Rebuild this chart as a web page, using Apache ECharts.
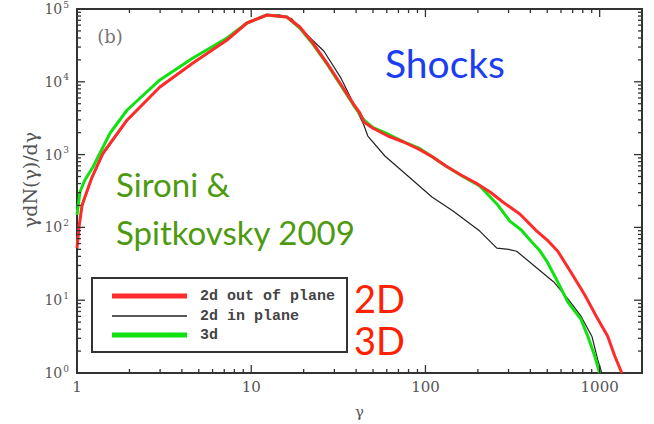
<!DOCTYPE html>
<html>
<head>
<meta charset="utf-8">
<script src="https://cdn.jsdelivr.net/npm/echarts@6/dist/echarts.min.js"></script>
<style>
  html, body { margin: 0; padding: 0; background: #fff; }
  #chart { width: 654px; height: 424px; }
</style>
</head>
<body>
<div id="chart"></div>
<script>
// Particle spectra gamma dN/dgamma vs gamma (log-log)
const gammaRed = [1, 1.03, 1.07, 1.11, 1.22, 1.41, 1.94, 2.99, 4.63, 7.26, 9.45, 12.3, 16.0, 19.0, 22.6, 27.2, 32.3, 38.3, 42.0, 44.3, 50, 60.9, 75, 91.6, 110, 131, 160, 195, 235, 278, 348, 436, 500, 575, 683, 822, 976, 1112, 1221, 1340];
const fRed = [52, 108, 203, 262, 492, 1050, 2990, 8490, 18100, 37500, 64200, 82700, 77700, 56600, 34100, 18100, 9630, 5110, 3730, 2810, 2300, 1800, 1490, 1190, 927, 697, 525, 407, 306, 223, 153, 89, 67, 47, 24.4, 11.8, 5.5, 3.2, 1.71, 1];

const gammaBlack = [1, 1.03, 1.07, 1.11, 1.22, 1.41, 1.94, 2.99, 4.63, 7.26, 9.45, 12.3, 14.5, 17.0, 19.8, 26.1, 32.7, 37.3, 44.3, 46.7, 58.5, 79.3, 109, 144, 205, 257, 300, 334, 436, 545, 657, 780, 902, 976, 1028];
const fBlack = [48, 100, 190, 250, 470, 1000, 2900, 8300, 17900, 37000, 63500, 82000, 83000, 74000, 49900, 26500, 11300, 6000, 2550, 1800, 957, 508, 262, 168, 89, 52, 50, 47, 27.7, 17.8, 10.4, 6.07, 3.2, 1.51, 1];

const gammaGreen = [1, 1.04, 1.11, 1.235, 1.55, 1.94, 2.99, 4.63, 7.26, 9.45, 12.3, 16.0, 19.0, 22.6, 27.2, 32.3, 38.3, 44.3, 50, 60.9, 75, 91.6, 110, 131, 164, 205, 257, 305, 355, 403, 450, 497, 575, 657, 780, 855, 937, 1000];
const fGreen = [148, 306, 448, 676, 1980, 4100, 10600, 21200, 40000, 64200, 82700, 77700, 54800, 33000, 17600, 9330, 4950, 2990, 2350, 1920, 1500, 1230, 930, 697, 500, 370, 210, 122, 92, 65, 49, 34.5, 17.8, 9.4, 5.5, 3.2, 1.71, 1];

const seriesNames = ['2d out of plane', '2d in plane', '3d'];
const seriesColors = ['#ff2a2a', '#222222', '#11e011'];
const xTickLabels = [1, 10, 100, 1000];
const yTickLabels = [1, 10, 100, 1000, 10000, 100000];
const X_MIN = 1, X_MAX = 1750, Y_MIN = 1, Y_MAX = 100000;

function pairs(xs, ys) { return xs.map((x, i) => [x, ys[i]]); }

const isDecade = v => Math.abs(Math.log10(v) - Math.round(Math.log10(v))) < 1e-6;

// tick positions: every 1..9 multiple of each decade inside [lo, hi]
function logTickValues(lo, hi) {
  const out = [];
  for (let d = 1; d <= hi; d *= 10) {
    for (let m = 1; m <= 9; m++) {
      const v = d * m;
      if (v >= lo && v <= hi) out.push(v);
    }
  }
  return out;
}

const frameColor = '#333';
const tickLen = v => (isDecade(v) ? 8 : 4);

// legend box contents
const LEG = { x0: 112, x1: 187, tx: 200, rows: [296, 316, 335], widths: [5, 1.5, 5] };
const staticGraphics = [
  { type: 'rect', shape: { x: 92, y: 278, width: 255, height: 74 }, style: { fill: '#fff', stroke: frameColor, lineWidth: 2 }, z: 10 }
];
seriesNames.forEach((name, i) => {
  staticGraphics.push({ type: 'line', z: 11, shape: { x1: LEG.x0, y1: LEG.rows[i], x2: LEG.x1, y2: LEG.rows[i] }, style: { stroke: seriesColors[i], lineWidth: LEG.widths[i] } });
  staticGraphics.push({ type: 'text', z: 11, x: LEG.tx, y: LEG.rows[i], style: { text: name, fontFamily: 'Liberation Mono', fontWeight: 'bold', fontSize: 15, fill: '#444', align: 'left', verticalAlign: 'middle' } });
});
staticGraphics.push(
  { type: 'text', x: 110, y: 36, style: { text: '(b)', fontFamily: 'DejaVu Serif', fontSize: 18, fill: '#777', align: 'center', verticalAlign: 'middle' } },
  { type: 'text', x: 30, y: 180, rotation: Math.PI / 2, style: { text: 'γdN(γ)/dγ', fontFamily: 'DejaVu Serif', fontSize: 19, fill: '#555', align: 'center', verticalAlign: 'middle' } },
  { type: 'text', x: 445, y: 63, style: { text: 'Shocks', fontFamily: 'Lato', fontSize: 39, fill: '#1b3ef0', align: 'center', verticalAlign: 'middle' } },
  { type: 'text', x: 116, y: 184, style: { text: 'Sironi &', fontFamily: 'Lato', fontSize: 33, fill: '#4d9a10', align: 'left', verticalAlign: 'middle' } },
  { type: 'text', x: 116, y: 232, style: { text: 'Spitkovsky 2009', fontFamily: 'Lato', fontSize: 33, fill: '#4d9a10', align: 'left', verticalAlign: 'middle' } },
  { type: 'text', x: 354, y: 298, style: { text: '2D', fontFamily: 'Lato', fontSize: 38, fill: '#ff2200', align: 'left', verticalAlign: 'middle' } },
  { type: 'text', x: 354, y: 340, style: { text: '3D', fontFamily: 'Lato', fontSize: 38, fill: '#ff2200', align: 'left', verticalAlign: 'middle' } }
);

const chart = echarts.init(document.getElementById('chart'), null, { renderer: 'svg' });

chart.setOption({
  backgroundColor: '#fff',
  animation: false,
  grid: { left: 77, right: 12, top: 9, bottom: 51, show: true, borderColor: frameColor, borderWidth: 2, backgroundColor: 'transparent' },
  xAxis: {
    type: 'log', logBase: 10, min: X_MIN, max: X_MAX,
    axisLine: { show: false }, axisTick: { show: false }, splitLine: { show: false },
    axisLabel: {
      showMaxLabel: false, margin: 6,
      fontFamily: 'DejaVu Serif', fontSize: 15, color: '#555',
      formatter: v => (isDecade(v) && xTickLabels.includes(Math.round(v))) ? String(Math.round(v)) : ''
    },
    name: 'γ', nameLocation: 'middle', nameGap: 31,
    nameTextStyle: { fontFamily: 'DejaVu Serif', fontSize: 15, color: '#555' }
  },
  yAxis: {
    type: 'log', logBase: 10, min: Y_MIN, max: Y_MAX,
    axisLine: { show: false }, axisTick: { show: false }, splitLine: { show: false },
    axisLabel: {
      margin: 8,
      formatter: v => yTickLabels.includes(Math.round(v)) ? '{b|10}{s|' + Math.round(Math.log10(v)) + '}' : '',
      rich: {
        b: { fontFamily: 'DejaVu Serif', fontSize: 14, color: '#555' },
        s: { fontFamily: 'DejaVu Serif', fontSize: 9, color: '#555', padding: [0, 0, 9, 1] }
      }
    }
  },
  graphic: staticGraphics,
  series: [
    {
      name: seriesNames[1], type: 'line', data: pairs(gammaBlack, fBlack),
      showSymbol: false, symbol: 'none', color: seriesColors[1], lineStyle: { width: 1.2, color: seriesColors[1] }, z: 3
    },
    {
      name: seriesNames[2], type: 'line', data: pairs(gammaGreen, fGreen),
      showSymbol: false, symbol: 'none', color: seriesColors[2], lineStyle: { width: 3, color: seriesColors[2] }, z: 4
    },
    {
      name: seriesNames[0], type: 'line', data: pairs(gammaRed, fRed),
      showSymbol: false, symbol: 'none', color: seriesColors[0], lineStyle: { width: 3, color: seriesColors[0] }, z: 5
    }
  ]
});

// inward frame ticks on all four sides, placed through the axes' own log scales
const toPx = (x, y) => chart.convertToPixel({ gridIndex: 0 }, [x, y]);
const [frameLeft, frameBottom] = toPx(X_MIN, Y_MIN);
const [frameRight, frameTop] = toPx(X_MAX, Y_MAX);
const tickGraphics = [];
const tickStyle = { stroke: frameColor, lineWidth: 1.3 };
logTickValues(X_MIN, X_MAX).forEach(v => {
  const px = toPx(v, Y_MIN)[0], len = tickLen(v);
  tickGraphics.push({ type: 'line', z: 6, silent: true, shape: { x1: px, y1: frameBottom, x2: px, y2: frameBottom - len }, style: tickStyle });
  tickGraphics.push({ type: 'line', z: 6, silent: true, shape: { x1: px, y1: frameTop, x2: px, y2: frameTop + len }, style: tickStyle });
});
logTickValues(Y_MIN, Y_MAX).forEach(v => {
  const py = toPx(X_MIN, v)[1], len = tickLen(v);
  tickGraphics.push({ type: 'line', z: 6, silent: true, shape: { x1: frameLeft, y1: py, x2: frameLeft + len, y2: py }, style: tickStyle });
  tickGraphics.push({ type: 'line', z: 6, silent: true, shape: { x1: frameRight, y1: py, x2: frameRight - len, y2: py }, style: tickStyle });
});
chart.setOption({ graphic: staticGraphics.concat(tickGraphics) });
</script>
</body>
</html>
